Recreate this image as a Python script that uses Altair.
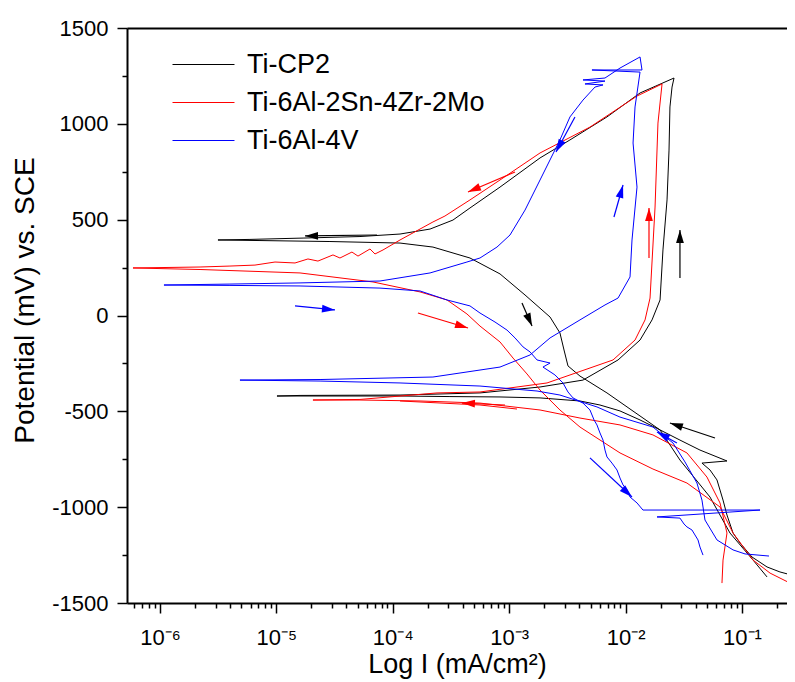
import math
import altair as alt
import pandas as pd

SERIES = ["Ti-CP2", "Ti-6Al-2Sn-4Zr-2Mo", "Ti-6Al-4V"]
COLORS = ["#000000", "#ff0000", "#0000ff"]

# ---- curve data: log10(I [mA/cm2]) and E [mV vs SCE], in scan order ----
cp2_logI = [-0.545, -0.674, -0.785, -0.914, -1.017, -1.077, -1.129, -1.163, -1.215, -1.275, -1.344, -1.129,
            -1.361, -1.533, -1.704, -1.876, -2.048, -2.220, -2.392, -2.735, -3.079, -3.509, -3.938, -4.368, -4.797, -4.995,
            -4.797, -3.938, -3.251, -2.735, -2.366, -2.065, -1.876, -1.773, -1.704, -1.679, -1.644, -1.627, -1.619, -1.601, -1.584,
            -1.876, -2.160, -2.478, -2.735, -3.079, -3.337, -3.483, -3.680, -3.938, -4.282, -4.771, -5.227, -5.502,
            -5.141, -4.540, -3.938, -3.655, -3.337, -3.079, -2.864, -2.649, -2.564, -2.529, -2.495, -2.392, -2.160,
            -1.704, -1.533, -1.275, -1.103, -0.905, -0.785]
cp2_E = [-1359, -1338, -1312, -1260, -1187, -1135, -1041, -963, -858, -806, -770, -759,
         -702, -650, -597, -545, -498, -467, -446, -430, -425, -423, -420, -420, -420, -420,
         -417, -415, -404, -373, -337, -232, -128, -23, 81, 342, 603, 863, 1088, 1192, 1239,
         1161, 1036, 916, 822, 670, 561, 498, 451, 425, 412, 404, 397, 394,
         391, 386, 378, 357, 300, 217, 107, -8, -91, -180, -263, -316, -404,
         -597, -754, -947, -1135, -1276, -1364]

tizr_logI = [-1.172, -1.163, -1.129, -1.189, -1.301, -1.473, -1.765, -2.048, -2.392, -2.735, -3.251, -3.766, -4.282, -4.686,
             -4.282, -3.620, -3.251, -2.675, -2.108, -1.919, -1.833, -1.790, -1.747, -1.722, -1.687,
             -1.902, -2.306, -2.735, -3.079, -3.337, -3.552, -3.655, -3.938, -4.084,
             -4.153, -4.196, -4.299, -4.351, -4.454, -4.514, -4.643, -4.729, -4.840, -5.012, -5.184, -5.399, -5.656, -6.232,
             -5.656, -4.797, -4.170, -3.766, -3.534, -3.363, -3.251, -3.079, -2.967, -2.847, -2.735, -2.564, -2.392,
             -2.048, -1.765, -1.473, -1.189, -1.077, -0.905, -0.759, -0.588]
tizr_E = [-1396, -1276, -1135, -978, -843, -717, -623, -571, -535, -493, -457, -446, -441, -441,
          -438, -404, -399, -352, -232, -128, -23, 91, 566, 1004, 1208,
          1145, 983, 848, 707, 603, 519, 488, 394, 342,
          321, 347, 310, 331, 300, 316, 284, 295, 274, 279, 263, 258, 253, 248,
          240, 222, 175, 123, 81, 8, -55, -138, -222, -305, -389, -493, -582,
          -717, -801, -874, -999, -1135, -1276, -1344, -1396]
tizr_stub_logI = [-3.938, -3.251, -2.933]
tizr_stub_E = [-446, -467, -488]

tiv_logI = [-0.768, -0.974, -1.077, -1.215, -1.318, -1.344, -1.387, -1.490, -1.593, -1.765, -2.048, -2.246, -2.564, -2.761,
            -3.251, -3.938, -4.625, -5.313,
            -4.625, -3.655, -3.079, -2.821, -2.649, -2.392, -2.177, -2.065, -1.962, -1.945, -1.902, -1.936, -1.919, -1.876,
            -2.289, -1.859, -1.876,
            -2.048, -2.177, -2.366, -2.177, -2.349, -2.194, -2.263, -2.366, -2.478, -2.564, -2.735, -2.864, -2.993, -3.105,
            -3.251, -3.363, -3.680, -4.110, -4.797, -5.399, -5.966,
            -5.399, -4.797, -4.110, -3.766, -3.534, -3.337, -3.251, -3.122, -3.019, -2.950, -2.881, -2.821, -2.761, -2.649,
            -2.710, -2.607, -2.538, -2.495, -2.452, -2.366, -2.306, -2.271, -2.246, -2.220, -2.194, -2.177, -2.160, -2.117,
            -2.074, -2.048, -2.022, -1.988, -1.962, -1.902, -1.851, -0.845, -1.730, -1.533, -1.498, -1.473, -1.430, -1.404,
            -1.378, -1.361, -1.335]
tiv_E = [-1255, -1244, -1223, -1171, -1067, -963, -874, -764, -665, -582, -530, -477, -415, -394,
         -368, -352, -342, -337,
         -334, -321, -269, -206, -117, -23, 55, 91, 201, 394, 670, 900, 1088, 1270,
         1281, 1281, 1349,
         1291, 1239, 1229, 1223, 1208, 1203, 1192, 1124, 1036, 916, 707, 550, 420, 357,
         300, 279, 222, 180, 170, 164, 159,
         157, 154, 143, 128, 81, 50, 13, -34, -76, -117, -164, -190, -232, -248,
         -269, -310, -352, -399, -430, -457, -493, -545, -571, -613, -650, -702, -738, -770,
         -806, -848, -884, -910, -947, -978, -1015, -1015, -1051, -1057, -1088, -1103, -1119, -1145,
         -1171, -1208, -1250]

# ---- scan-direction arrows: series, tail (logI, E), tip (logI, E) ----
arrow_series = ["Ti-CP2", "Ti-CP2", "Ti-CP2", "Ti-CP2",
                "Ti-6Al-2Sn-4Zr-2Mo", "Ti-6Al-2Sn-4Zr-2Mo", "Ti-6Al-2Sn-4Zr-2Mo", "Ti-6Al-2Sn-4Zr-2Mo",
                "Ti-6Al-4V", "Ti-6Al-4V", "Ti-6Al-4V", "Ti-6Al-4V", "Ti-6Al-4V"]
arrow_tail_logI = [-4.136, -2.890, -1.533, -1.232, -2.950, -3.784, -1.799, -3.036, -4.840, -2.100, -2.435, -2.306, -1.559]
arrow_tail_E = [420, 65, 196, -639, 749, 13, 300, -467, 50, 514, 1036, -743, -665]
arrow_tip_logI = [-4.754, -2.804, -1.533, -1.619, -3.354, -3.354, -1.799, -3.406, -4.497, -2.022, -2.598, -1.945, -1.730]
arrow_tip_E = [415, -55, 446, -561, 644, -65, 561, -457, 29, 681, 853, -947, -608]

# ---- axes ----
X_MIN_EXP = -6.2835
W, H = 660, 575
PX_PER_DECADE = 116.4
X_MAX_EXP = X_MIN_EXP + W / PX_PER_DECADE
E_MIN, E_MAX = -1500, 1500
FONT = "Liberation Sans"

rows = []


def add(series, seg, lg, ev):
    for k, (a, b) in enumerate(zip(lg, ev)):
        rows.append({"series": series, "seg": series + str(seg), "idx": k, "I": 10.0 ** a, "E": b})


add(SERIES[0], 0, cp2_logI, cp2_E)
add(SERIES[1], 0, tizr_logI, tizr_E)
add(SERIES[1], 1, tizr_stub_logI, tizr_stub_E)
add(SERIES[2], 0, tiv_logI, tiv_E)
df = pd.DataFrame(rows)

px_dec = W / (X_MAX_EXP - X_MIN_EXP)
px_mv = H / (E_MAX - E_MIN)
arows = []
for s, tl, te, pl, pe in zip(arrow_series, arrow_tail_logI, arrow_tail_E, arrow_tip_logI, arrow_tip_E):
    dx = (pl - tl) * px_dec
    dy = -(pe - te) * px_mv
    ang = math.degrees(math.atan2(dx, -dy)) % 360
    arows.append({"col": COLORS[SERIES.index(s)], "tail_I": 10.0 ** tl, "tail_E": te,
                  "tip_I": 10.0 ** pl, "tip_E": pe, "ang": ang})
adf = pd.DataFrame(arows)

X_TICKS = []
for d in range(-7, 0):
    for k in range(1, 10):
        v = k * 10.0 ** d
        if X_MIN_EXP <= math.log10(v) <= X_MAX_EXP:
            X_TICKS.append(v)
Y_TICKS = list(range(-1500, 1501, 250))

SUP = {-6: "⁻⁶", -5: "⁻⁵", -4: "⁻⁴", -3: "⁻³", -2: "⁻²", -1: "⁻¹"}
EXP = "round(log(datum.value)/LN10)"
MAJ_X = f"abs(log(datum.value)/LN10 - {EXP}) < 0.01"
lab = "''"
for e in sorted(SUP):
    lab = f"{EXP} == {e} ? '10{SUP[e]}' : ({lab})"
X_LABEL = f"{MAJ_X} ? ({lab}) : ''"
MAJ_Y = "datum.value % 500 == 0"

xscale = alt.Scale(type="log", domain=[10 ** X_MIN_EXP, 10 ** X_MAX_EXP])
yscale = alt.Scale(domain=[E_MIN, E_MAX])

x_axis = alt.Axis(values=X_TICKS, labelExpr=X_LABEL, grid=False, labelOverlap=False, labelFlush=False,
                  tickSize={"condition": {"test": MAJ_X, "value": 10}, "value": 5},
                  tickWidth=1.5, tickColor="black", domainWidth=2, domainColor="black",
                  labelFont=FONT, labelFontSize=22, labelColor="black", labelPadding=14,
                  title="Log I (mA/cm²)", titleFont=FONT, titleFontSize=27, titleFontWeight="normal",
                  titleColor="black", titlePadding=3)
y_axis = alt.Axis(values=Y_TICKS, labelExpr=f"{MAJ_Y} ? '' + datum.value : ''", grid=False, labelOverlap=False,
                  tickSize={"condition": {"test": MAJ_Y, "value": 10}, "value": 5},
                  tickWidth=1.5, tickColor="black", domainWidth=2, domainColor="black",
                  labelFont=FONT, labelFontSize=22, labelColor="black", labelPadding=9,
                  title="Potential (mV) vs. SCE", titleFont=FONT, titleFontSize=28, titleFontWeight="normal",
                  titleColor="black", titlePadding=12, titleY=272)

legend = alt.Legend(title=None, orient="none", legendX=63, legendY=23, symbolType="M-3,0L3,0", symbolSize=427,
                    symbolStrokeWidth=1, labelFont=FONT, labelFontSize=27, labelColor="black", labelOffset=30,
                    rowPadding=10, padding=0, labelLimit=500)

curves = alt.Chart(df).mark_line(strokeWidth=1, clip=True).encode(
    x=alt.X("I:Q", scale=xscale, axis=x_axis),
    y=alt.Y("E:Q", scale=yscale, axis=y_axis),
    color=alt.Color("series:N", scale=alt.Scale(domain=SERIES, range=COLORS), legend=legend),
    detail="seg:N",
    order="idx:Q",
)

topline = alt.Chart(df).mark_point(opacity=0).encode(
    x=alt.X("I:Q", scale=xscale, axis=alt.Axis(orient="top", labels=False, ticks=False, domain=True,
                                                domainWidth=2, domainColor="black", title=None, grid=False)),
    y=alt.Y("E:Q", scale=yscale, axis=None),
)

shafts = alt.Chart(adf).mark_rule(strokeWidth=1.2, clip=True).encode(
    x=alt.X("tail_I:Q", scale=xscale, axis=None),
    x2="tip_I:Q",
    y=alt.Y("tail_E:Q", scale=yscale, axis=None),
    y2="tip_E:Q",
    stroke=alt.Stroke("col:N", scale=None),
)

heads = alt.Chart(adf).mark_point(filled=True, shape="M0,0L-0.45,1.5L0.45,1.5Z", size=300, opacity=1,
                                  clip=True).encode(
    x=alt.X("tip_I:Q", scale=xscale, axis=None),
    y=alt.Y("tip_E:Q", scale=yscale, axis=None),
    angle=alt.Angle("ang:Q", scale=None),
    fill=alt.Fill("col:N", scale=None),
)

chart = alt.layer(curves, topline, shafts, heads).resolve_axis(x="independent", y="independent").properties(
    width=W, height=H,
    autosize=alt.AutoSizeParams(type="none"),
    padding={"left": 119, "top": 20, "right": 0, "bottom": 79},
).configure_view(stroke=None).configure(background="white")

chart.save("out.html", embed_options={"renderer": "svg", "actions": False})
